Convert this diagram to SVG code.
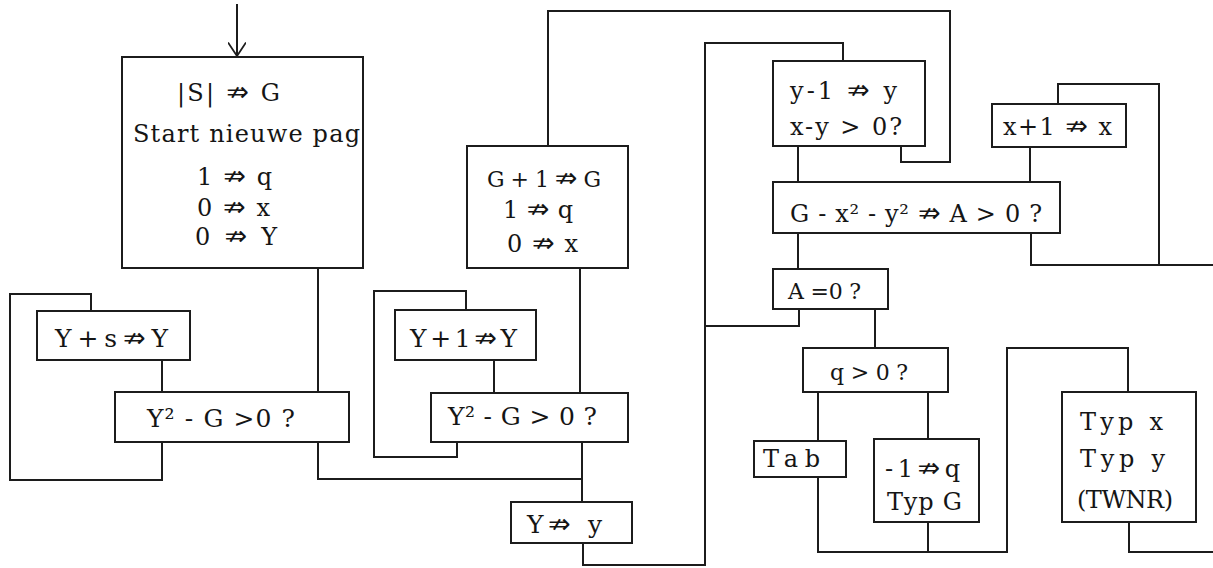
<svg xmlns="http://www.w3.org/2000/svg" width="1213" height="568" viewBox="0 0 1213 568">
<style>
  .box { fill: #ffffff; stroke: #1c1c1c; stroke-width: 2; }
  .wire { fill: none; stroke: #1c1c1c; stroke-width: 2; stroke-linejoin: miter; }
  text { font-family: "DejaVu Serif", "Liberation Serif", serif; font-size: 24px; fill: #151515; }
  .big { font-size: 25px; }
  .m { font-size: 22px; }
  .ar { font-family: "DejaVu Sans", sans-serif; font-size: 27px; }
</style>
<defs>
  <marker id="arrow" markerUnits="userSpaceOnUse" markerWidth="14" markerHeight="18" viewBox="0 0 12 16" refX="12" refY="8" orient="auto">
    <path d="M0,0 L12,8 L0,16" fill="none" stroke="#1c1c1c" stroke-width="1.6"/>
  </marker>
</defs>
<rect x="0" y="0" width="1213" height="568" fill="#ffffff"/>

<g id="connectors">
  <path class="wire" d="M237,4 V56" marker-end="url(#arrow)"/>
  <path class="wire" d="M318,268 V392"/>
  <path class="wire" d="M162,442 V480 H10 V294 H91 V311"/>
  <path class="wire" d="M162,360 V392"/>
  <path class="wire" d="M318,442 V479 H582"/>
  <path class="wire" d="M580,268 V393"/>
  <path class="wire" d="M457,442 V457 H374 V291 H466 V310"/>
  <path class="wire" d="M494,360 V393"/>
  <path class="wire" d="M582,442 V502"/>
  <path class="wire" d="M583,543 V565 H705 V43 H843 V61"/>
  <path class="wire" d="M901,146 V162 H950 V11 H548 V146"/>
  <path class="wire" d="M798,146 V182"/>
  <path class="wire" d="M1030,147 V182"/>
  <path class="wire" d="M1031,233 V265 H1213"/>
  <path class="wire" d="M1159,265 V84 H1058 V104"/>
  <path class="wire" d="M798,233 V269"/>
  <path class="wire" d="M799,309 V326 H705"/>
  <path class="wire" d="M875,309 V348"/>
  <path class="wire" d="M818,392 V441"/>
  <path class="wire" d="M928,392 V439"/>
  <path class="wire" d="M818,477 V552 H1007 V348 H1128 V392"/>
  <path class="wire" d="M928,522 V552"/>
  <path class="wire" d="M1129,522 V552 H1213"/>
</g>

<g id="n-start">
  <rect class="box" x="122" y="57" width="241" height="211"/>
  <text x="177" y="101" textLength="103" lengthAdjust="spacing">|S| <tspan class="ar">⇏</tspan> G</text>
  <text x="133" y="142" textLength="227" lengthAdjust="spacing">Start nieuwe pag</text>
  <text x="197" y="185" textLength="75" lengthAdjust="spacing">1 <tspan class="ar">⇏</tspan> q</text>
  <text x="197" y="216" textLength="73" lengthAdjust="spacing">0 <tspan class="ar">⇏</tspan> x</text>
  <text x="195" y="245" textLength="82" lengthAdjust="spacing">0 <tspan class="ar">⇏</tspan> Y</text>
</g>

<g id="n-ys">
  <rect class="box" x="37" y="311" width="153" height="49"/>
  <text class="big" x="55" y="347" textLength="113" lengthAdjust="spacing">Y+s<tspan class="ar">⇏</tspan>Y</text>
</g>

<g id="n-test1">
  <rect class="box" x="115" y="392" width="234" height="50"/>
  <text class="big" x="147" y="427" textLength="148" lengthAdjust="spacing">Y² - G &gt;0 ?</text>
</g>

<g id="n-g1">
  <rect class="box" x="467" y="146" width="161" height="122"/>
  <text class="m" x="487" y="187" textLength="114" lengthAdjust="spacing">G + 1 <tspan class="ar">⇏</tspan> G</text>
  <text x="503" y="218" textLength="70" lengthAdjust="spacing">1 <tspan class="ar">⇏</tspan> q</text>
  <text x="507" y="252" textLength="71" lengthAdjust="spacing">0 <tspan class="ar">⇏</tspan> x</text>
</g>

<g id="n-y1">
  <rect class="box" x="395" y="310" width="141" height="50"/>
  <text class="big" x="410" y="347" textLength="107" lengthAdjust="spacing">Y+1<tspan class="ar">⇏</tspan>Y</text>
</g>

<g id="n-test2">
  <rect class="box" x="431" y="393" width="197" height="49"/>
  <text class="big" x="448" y="425" textLength="149" lengthAdjust="spacing">Y² - G &gt; 0 ?</text>
</g>

<g id="n-yy">
  <rect class="box" x="511" y="502" width="121" height="41"/>
  <text class="big" x="527" y="533" textLength="75" lengthAdjust="spacing">Y<tspan class="ar">⇏</tspan> y</text>
</g>

<g id="n-ym1">
  <rect class="box" x="773" y="61" width="152" height="85"/>
  <text x="790" y="99" textLength="107" lengthAdjust="spacing">y-1 <tspan class="ar">⇏</tspan> y</text>
  <text x="790" y="135" textLength="112" lengthAdjust="spacing">x-y &gt; 0?</text>
</g>

<g id="n-xp1">
  <rect class="box" x="992" y="104" width="134" height="43"/>
  <text x="1003" y="135" textLength="109" lengthAdjust="spacing">x+1 <tspan class="ar">⇏</tspan> x</text>
</g>

<g id="n-a">
  <rect class="box" x="773" y="182" width="287" height="51"/>
  <text x="790" y="222" textLength="252" lengthAdjust="spacing">G - x² - y² <tspan class="ar">⇏</tspan> A &gt; 0 ?</text>
</g>

<g id="n-a0">
  <rect class="box" x="773" y="269" width="115" height="40"/>
  <text class="m" x="788" y="299" textLength="73" lengthAdjust="spacing">A =0 ?</text>
</g>

<g id="n-q">
  <rect class="box" x="803" y="348" width="145" height="44"/>
  <text class="m" x="830" y="380" textLength="78" lengthAdjust="spacing">q &gt; 0 ?</text>
</g>

<g id="n-tab">
  <rect class="box" x="754" y="441" width="92" height="36"/>
  <text x="763" y="467" textLength="57" lengthAdjust="spacing">Tab</text>
</g>

<g id="n-typg">
  <rect class="box" x="874" y="439" width="105" height="83"/>
  <text x="885" y="477" textLength="75" lengthAdjust="spacing">-1<tspan class="ar">⇏</tspan>q</text>
  <text x="887" y="510" textLength="75" lengthAdjust="spacing">Typ G</text>
</g>

<g id="n-typxy">
  <rect class="box" x="1062" y="392" width="134" height="130"/>
  <text x="1080" y="430" textLength="83" lengthAdjust="spacing">Typ x</text>
  <text x="1080" y="467" textLength="85" lengthAdjust="spacing">Typ y</text>
  <text x="1077" y="508" textLength="96" lengthAdjust="spacing">(TWNR)</text>
</g>
</svg>
